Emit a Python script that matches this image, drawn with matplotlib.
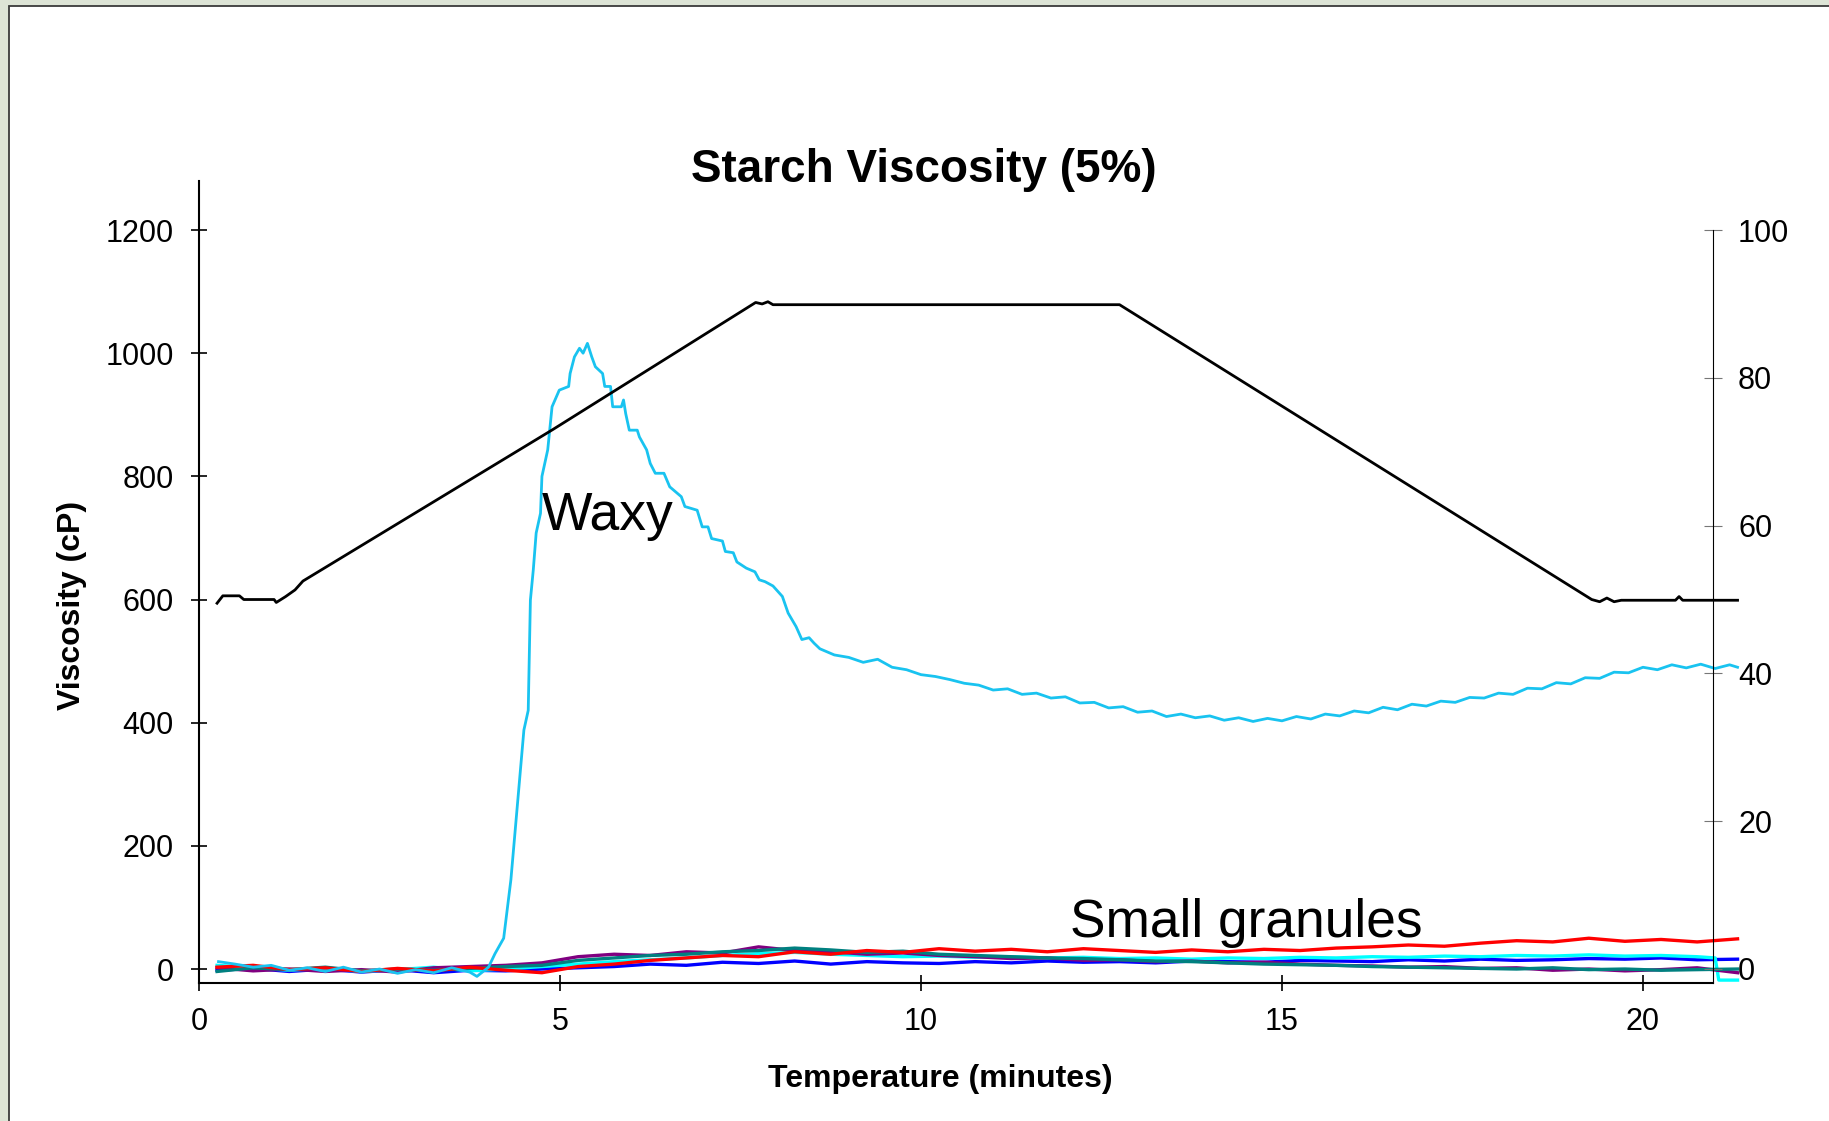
import matplotlib
matplotlib.use('Agg')
import matplotlib.pyplot as plt
from matplotlib.patches import Rectangle

plt.rcParams['font.family'] = ['Liberation Sans', 'DejaVu Sans']

# temperature profile (right axis)
temp_t = [0.25, 0.33, 0.56, 0.62, 1.04, 1.07, 1.20, 1.33, 1.44, 4.90, 7.71, 7.80,
          7.88, 7.95, 12.75, 19.29, 19.40, 19.50, 19.60, 19.70, 20.45, 20.50, 20.55, 21.31]
temp = [49.5, 50.5, 50.5, 50.0, 50.0, 49.6, 50.4, 51.3, 52.5, 73.0, 90.2, 90.0,
        90.3, 89.9, 89.9, 50.0, 49.7, 50.2, 49.7, 49.9, 49.9, 50.4, 49.9, 49.9]

# waxy starch viscosity
waxy_t = [0.27, 0.5, 0.75, 1.0, 1.25, 1.5, 1.75, 2.0, 2.25, 2.5, 2.75, 3.0, 3.25, 3.5,
          3.75, 3.85, 4.01, 4.10, 4.22, 4.32, 4.42, 4.50, 4.56, 4.58, 4.59, 4.63, 4.67,
          4.73, 4.75, 4.83, 4.89, 4.99, 5.12, 5.14, 5.20, 5.27, 5.32, 5.38, 5.44, 5.49,
          5.59, 5.62, 5.70, 5.73, 5.85, 5.88, 5.91, 5.96, 6.07, 6.10, 6.20, 6.25, 6.32,
          6.44, 6.52, 6.68, 6.73, 6.90, 6.97, 7.05, 7.10, 7.25, 7.29, 7.40, 7.45, 7.58,
          7.70, 7.76, 7.84, 7.95, 8.08, 8.16, 8.27, 8.35, 8.45, 8.52,
          8.6, 8.8, 9.0, 9.2, 9.4, 9.6, 9.8, 10.0, 10.2, 10.4, 10.6, 10.8, 11.0, 11.2,
          11.4, 11.6, 11.8, 12.0, 12.2, 12.4, 12.6, 12.8, 13.0, 13.2, 13.4, 13.6, 13.8,
          14.0, 14.2, 14.4, 14.6, 14.8, 15.0, 15.2, 15.4, 15.6, 15.8, 16.0, 16.2, 16.4,
          16.6, 16.8, 17.0, 17.2, 17.4, 17.6, 17.8, 18.0, 18.2, 18.4, 18.6, 18.8, 19.0,
          19.2, 19.4, 19.6, 19.8, 20.0, 20.2, 20.4, 20.6, 20.8, 21.0, 21.2, 21.31]
waxy = [12, 8, 3, 6, -2, 2, -4, 3, -5, 0, -7, -1, -6, 2,
        -5, -12, 3, 25, 50, 145, 280, 388, 420, 540, 599, 648, 708,
        740, 800, 843, 913, 940, 946, 967, 994, 1008, 1000, 1016, 994, 978,
        967, 946, 946, 913, 913, 924, 902, 875, 875, 864, 843, 821, 805,
        805, 783, 767, 751, 745, 718, 718, 699, 695, 678, 676, 661, 651,
        645, 632, 629, 622, 605, 578, 556, 535, 538, 529,
        520, 510, 506, 498, 503, 490, 486, 478, 475, 470, 464, 461, 453, 455,
        446, 448, 440, 442, 432, 433, 424, 426, 417, 419, 410, 414, 408,
        411, 404, 408, 402, 407, 403, 410, 406, 414, 411, 419, 416, 425,
        421, 430, 427, 435, 433, 441, 440, 448, 446, 456, 455, 465, 463,
        473, 472, 482, 481, 490, 486, 494, 489, 495, 488, 494, 490]

# small granule starches
small_t = [0.25, 0.75, 1.25, 1.75, 2.25, 2.75, 3.25, 3.75, 4.25, 4.75, 5.25, 5.75,
           6.25, 6.75, 7.25, 7.75, 8.25, 8.75, 9.25, 9.75, 10.25, 10.75, 11.25, 11.75,
           12.25, 12.75, 13.25, 13.75, 14.25, 14.75, 15.25, 15.75, 16.25, 16.75, 17.25,
           17.75, 18.25, 18.75, 19.25, 19.75, 20.25, 20.75, 21.31]
red = [3, 6, -1, 2, -4, 1, -3, 3, -2, -6, 4, 8, 14, 18, 22, 20, 28, 24, 30, 27,
       33, 29, 32, 28, 33, 30, 27, 31, 28, 32, 30, 34, 36, 39, 37, 42, 46, 44, 50, 45,
       48, 44, 49]
blue = [-2, 1, -4, 0, -5, -1, -6, -2, -3, 0, 2, 4, 8, 6, 11, 9, 13, 8, 12, 10,
        9, 12, 10, 13, 11, 12, 10, 13, 12, 11, 14, 13, 12, 15, 13, 16, 14, 15, 17, 16,
        18, 15, 16]
purple = [2, -3, 0, -4, -1, -5, 2, 4, 6, 10, 20, 24, 22, 28, 26, 36, 30, 28, 24, 26,
          22, 20, 17, 18, 14, 15, 12, 13, 10, 11, 8, 6, 5, 3, 4, 1, 2, -2, 0, -3,
          -1, 2, -6]
teal = [-4, 2, -1, 3, -3, 0, -2, 1, 4, 6, 14, 18, 22, 24, 28, 30, 34, 31, 27, 29,
        24, 22, 20, 18, 17, 15, 13, 12, 10, 8, 7, 6, 4, 3, 2, 1, 0, 2, -1, 0,
        -2, -1, 0]
aqua_t = [0.25, 0.75, 1.25, 1.75, 2.25, 2.75, 3.25, 3.75, 4.25, 4.75, 5.25, 5.75,
          6.25, 6.75, 7.25, 7.75, 8.25, 8.75, 9.25, 9.75, 10.25, 10.75, 11.25, 11.75,
          12.25, 12.75, 13.25, 13.75, 14.25, 14.75, 15.25, 15.75, 16.25, 16.75, 17.25,
          17.75, 18.25, 18.75, 19.25, 19.75, 20.25, 20.75, 21.0, 21.05, 21.31]
aqua = [6, 2, -2, 1, -4, -1, 3, -3, 0, 4, 8, 12, 15, 18, 22, 25, 27, 24, 22, 20,
        21, 19, 20, 18, 19, 17, 18, 16, 18, 17, 19, 18, 20, 19, 21, 20, 22, 21, 23, 21,
        22, 20, 18, -18, -18]

x_ticks = [0, 5, 10, 15, 20]
visc_ticks = [0, 200, 400, 600, 800, 1000, 1200]
temp_ticks = [0, 20, 40, 60, 80, 100]

W, H = 1829, 1121
fig = plt.figure(figsize=(W / 100, H / 100), dpi=100)
fig.patch.set_facecolor('#dde4d6')
fig.patches.append(Rectangle((9 / W, -0.05), 1.0, 1.05 - 6 / H, transform=fig.transFigure,
                             facecolor='white', edgecolor='#3a3a3a', lw=1.3, zorder=-5))

ax = fig.add_axes([199 / W, 138 / H, (1713 - 199) / W, (983 - 181) / H])
ax.set_facecolor('none')
ax2 = ax.twinx()
ax2.set_facecolor('none')

ax.plot(small_t, blue, color='#0000ff', lw=2.4, clip_on=False)
ax.plot(aqua_t, aqua, color='#00ffff', lw=2.4, clip_on=False)
ax.plot(small_t, purple, color='#800080', lw=2.4, clip_on=False)
ax.plot(small_t, teal, color='#008080', lw=2.4, clip_on=False)
ax.plot(small_t, red, color='#ff0000', lw=2.4, clip_on=False)
ax.plot(waxy_t, waxy, color='#19c3f0', lw=2.0, clip_on=False)
ax2.plot(temp_t, temp, color='black', lw=2.0, clip_on=False)

ax.set_xlim(0, 20.97)
ax.set_ylim(-22.7, 1279.6)
ax2.set_ylim(-1.9, 106.64)
ax.set_xticks(x_ticks)
ax.set_yticks(visc_ticks)
ax2.set_yticks(temp_ticks)

for s in ['top', 'right']:
    ax.spines[s].set_visible(False)
for s in ['top', 'left', 'bottom']:
    ax2.spines[s].set_visible(False)
ax.spines['left'].set_linewidth(1.5)
ax.spines['bottom'].set_linewidth(1.5)
ax2.spines['right'].set_linewidth(0.8)
ax2.spines['right'].set_bounds(-1.9, 100)

ax.tick_params(axis='y', direction='inout', length=12.2, width=1.2, labelsize=22, pad=12)
ax.tick_params(axis='x', direction='inout', length=12.2, width=1.2, labelsize=22, pad=11)
ax2.tick_params(axis='y', direction='inout', length=13, width=0.8, color='#777777',
                labelsize=22, pad=11.5)

ax.text(4.75, 713, 'Waxy', fontsize=38.5, ha='left', va='baseline')
ax.text(12.07, 52, 'Small granules', fontsize=38.3, ha='left', va='baseline')

fig.text(924 / W, 1 - 182 / H, 'Starch Viscosity (5%)', fontsize=33, fontweight='bold',
         ha='center', va='baseline')
fig.text(940 / W, 1 - 1087 / H, 'Temperature (minutes)', fontsize=23, fontweight='bold',
         ha='center', va='baseline')
fig.text(72 / W, 1 - 605 / H, 'Viscosity (cP)', fontsize=23, fontweight='bold',
         rotation=90, ha='center', va='center')

fig.savefig('out.png', dpi=100, facecolor=fig.get_facecolor())
